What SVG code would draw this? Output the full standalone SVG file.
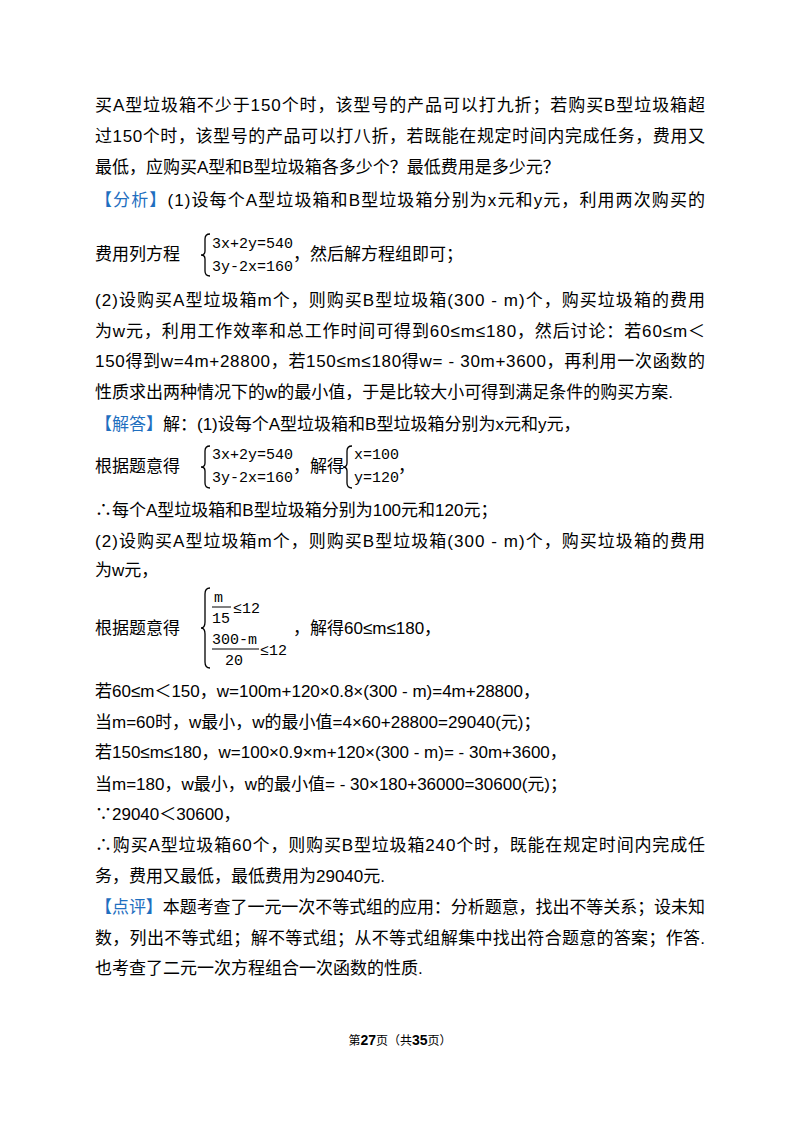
<svg xmlns="http://www.w3.org/2000/svg" width="800" height="1132" viewBox="0 0 800 1132">
<style>
text{font-family:"Liberation Sans","Noto Sans CJK SC",sans-serif;font-size:17px;fill:#000}
.b{fill:#1f6fbf}
.eq{font-family:"Liberation Mono","DejaVu Sans Mono",monospace;font-size:15px}
.br{fill:none;stroke:#000;stroke-width:1.3}
.ft{font-size:12px}
</style>
<rect width="800" height="1132" fill="#fff"/>
<text x="95" y="111" textLength="610" lengthAdjust="spacing">买A型垃圾箱不少于150个时，该型号的产品可以打九折；若购买B型垃圾箱超</text>
<text x="95" y="142" textLength="610" lengthAdjust="spacing">过150个时，该型号的产品可以打八折，若既能在规定时间内完成任务，费用又</text>
<text x="95" y="173">最低，应购买A型和B型垃圾箱各多少个？最低费用是多少元？</text>
<text x="95" y="206" textLength="610" lengthAdjust="spacing"><tspan class="b">【分析】</tspan>(1)设每个A型垃圾箱和B型垃圾箱分别为x元和y元，利用两次购买的</text>
<text x="95" y="260">费用列方程</text>
<path class="br" d="M210,234 q-5,0 -5,5 v12 q0,4 -4,4 q4,0 4,4 v12 q0,5 5,5"/>
<text class="eq" x="212" y="248">3x+2y=540</text>
<text class="eq" x="212" y="271">3y-2x=160</text>
<text x="293" y="260">，然后解方程组即可；</text>
<text x="95" y="306" textLength="610" lengthAdjust="spacing">(2)设购买A型垃圾箱m个，则购买B型垃圾箱(300 - m)个，购买垃圾箱的费用</text>
<text x="95" y="337" textLength="610" lengthAdjust="spacing">为w元，利用工作效率和总工作时间可得到60≤m≤180，然后讨论：若60≤m＜</text>
<text x="95" y="367" textLength="610" lengthAdjust="spacing">150得到w=4m+28800，若150≤m≤180得w= - 30m+3600，再利用一次函数的</text>
<text x="95" y="398">性质求出两种情况下的w的最小值，于是比较大小可得到满足条件的购买方案.</text>
<text x="95" y="430"><tspan class="b">【解答】</tspan>解：(1)设每个A型垃圾箱和B型垃圾箱分别为x元和y元，</text>
<text x="95" y="472">根据题意得</text>
<path class="br" d="M210,446 q-5,0 -5,5 v12 q0,4 -4,4 q4,0 4,4 v12 q0,5 5,5"/>
<text class="eq" x="212" y="459">3x+2y=540</text>
<text class="eq" x="212" y="482">3y-2x=160</text>
<text x="293" y="472">，解得</text>
<path class="br" d="M352,446 q-5,0 -5,5 v12 q0,4 -4,4 q4,0 4,4 v12 q0,5 5,5"/>
<text class="eq" x="354" y="459">x=100</text>
<text class="eq" x="354" y="482">y=120</text>
<text x="398" y="472">，</text>
<text x="95" y="516">∴每个A型垃圾箱和B型垃圾箱分别为100元和120元；</text>
<text x="95" y="547" textLength="610" lengthAdjust="spacing">(2)设购买A型垃圾箱m个，则购买B型垃圾箱(300 - m)个，购买垃圾箱的费用</text>
<text x="95" y="576">为w元，</text>
<text x="95" y="634">根据题意得</text>
<path class="br" d="M210,588 q-5,0 -5,6 v28 q0,6 -4,6 q4,0 4,6 v28 q0,6 5,6"/>
<text class="eq" x="214" y="602">m</text>
<line x1="212" y1="607" x2="231" y2="607" stroke="#000" stroke-width="1"/>
<text class="eq" x="212" y="623">15</text>
<text class="eq" x="233" y="613">≤12</text>
<text class="eq" x="212" y="644">300-m</text>
<line x1="212" y1="649" x2="259" y2="649" stroke="#000" stroke-width="1"/>
<text class="eq" x="225" y="665">20</text>
<text class="eq" x="260" y="655">≤12</text>
<text x="293" y="634">，解得60≤m≤180，</text>
<text x="95" y="697">若60≤m＜150，w=100m+120×0.8×(300 - m)=4m+28800，</text>
<text x="95" y="728">当m=60时，w最小，w的最小值=4×60+28800=29040(元)；</text>
<text x="95" y="758">若150≤m≤180，w=100×0.9×m+120×(300 - m)= - 30m+3600，</text>
<text x="95" y="790">当m=180，w最小，w的最小值= - 30×180+36000=30600(元)；</text>
<text x="95" y="820">∵29040＜30600，</text>
<text x="95" y="851" textLength="610" lengthAdjust="spacing">∴购买A型垃圾箱60个，则购买B型垃圾箱240个时，既能在规定时间内完成任</text>
<text x="95" y="882">务，费用又最低，最低费用为29040元.</text>
<text x="95" y="913" textLength="610" lengthAdjust="spacing"><tspan class="b">【点评】</tspan>本题考查了一元一次不等式组的应用：分析题意，找出不等关系；设未知</text>
<text x="95" y="944" textLength="610" lengthAdjust="spacing">数，列出不等式组；解不等式组；从不等式组解集中找出符合题意的答案；作答.</text>
<text x="95" y="974">也考查了二元一次方程组合一次函数的性质.</text>
<text class="ft" x="400" y="1045" text-anchor="middle">第<tspan font-weight="bold" font-size="14">27</tspan>页（共<tspan font-weight="bold" font-size="14">35</tspan>页）</text>
</svg>
